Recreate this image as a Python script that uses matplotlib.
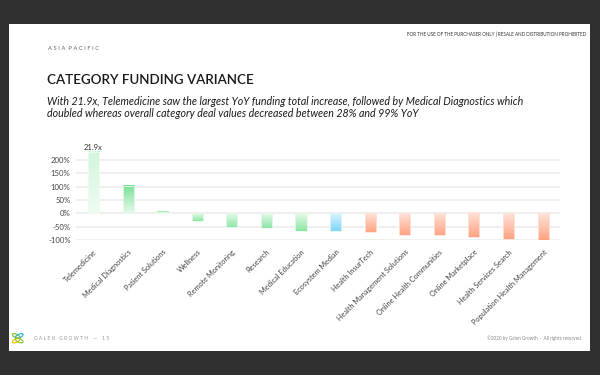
import numpy as np
import matplotlib.pyplot as plt
from matplotlib.colors import LinearSegmentedColormap
from matplotlib.patches import Rectangle, Ellipse

categories = ['Telemedicine', 'Medical Diagnostics', 'Patient Solutions', 'Wellness',
              'Remote Monitoring', 'Research', 'Medical Education', 'Ecosystem Median',
              'Health InsurTech', 'Health Management Solutions', 'Online Health Communities',
              'Online Marketplace', 'Health Services Search', 'Population Health Management']
# YoY variance in % (Telemedicine bar is capped, real value 21.9x)
values = [230, 102, 6, -28, -50, -56, -65, -65, -70, -80, -81, -90, -96, -99]
top_colors = ['#d3f5db', '#79e095', '#8ee6a6', '#8ee6a6', '#8ee6a6', '#8ee6a6', '#8ee6a6',
              '#7ed6f7', '#ffa383', '#ffa383', '#ffa383', '#ffa383', '#ffa383', '#ffa383']
end_colors = ['#effcf2', '#e6faeb', '#e6faeb', '#e6faeb', '#e6faeb', '#e6faeb', '#e6faeb',
              '#dcf4fd', '#ffe4d9', '#ffe4d9', '#ffe4d9', '#ffe4d9', '#ffe4d9', '#ffe4d9']
yticks = [-100, -50, 0, 50, 100, 150, 200]

fig = plt.figure(figsize=(6, 3.75), dpi=100)
fig.patch.set_facecolor('#303030')
fig.patches.append(Rectangle((0.015, 0.064), 0.968, 0.872, transform=fig.transFigure,
                             facecolor='white', edgecolor='none', zorder=-5))

font = 'Lato'
fig.text(0.977, 0.909, 'FOR THE USE OF THE PURCHASER ONLY | RESALE AND DISTRIBUTION PROHIBITED',
         ha='right', va='center', fontsize=3.3, color='#333333', family=font)
fig.text(0.08, 0.872, 'A S I A  P A C I F I C', ha='left', va='center', fontsize=4.2,
         color='#666666', family=font)
fig.text(0.079, 0.787, 'CATEGORY FUNDING VARIANCE', ha='left', va='center', fontsize=9.6,
         color='#1a1a1a', family=font, weight='semibold')
fig.text(0.079, 0.713, 'With 21.9x, Telemedicine saw the largest YoY funding total increase, '
         'followed by Medical Diagnostics which\ndoubled whereas overall category deal values '
         'decreased between 28% and 99% YoY', ha='left', va='center', fontsize=7.7,
         style='italic', color='#1a1a1a', family=font, linespacing=1.05)
fig.text(0.056, 0.098, 'G A L E N   G R O W T H    —    1 5', ha='left', va='center',
         fontsize=3.6, color='#999999', family=font)
fig.text(0.97, 0.098, '©2020 by Galen Growth  ·  All rights reserved.', ha='right', va='center',
         fontsize=3.3, color='#888888', family=font)
# small logo
for (dx, dy, ang, c) in [(0.027, 0.104, 45, '#8cc63f'), (0.032, 0.104, -45, '#2bb5e0'),
                         (0.027, 0.092, -45, '#f2c300'), (0.032, 0.092, 45, '#8cc63f')]:
    fig.patches.append(Ellipse((dx, dy), 0.008, 0.016, angle=ang, transform=fig.transFigure,
                               facecolor='none', edgecolor=c, linewidth=0.9))

ax = fig.add_axes([0.127, 0.36, 0.807, 0.242])
ax.set_facecolor('none')
x = np.arange(len(categories))
w = 0.32
for i, v in enumerate(values):
    cmap = LinearSegmentedColormap.from_list('g', [end_colors[i], top_colors[i]])
    grad = np.linspace(0, 1, 100).reshape(-1, 1)
    if v >= 0:
        ext = [x[i] - w / 2, x[i] + w / 2, 0, v]
    else:
        ext = [x[i] - w / 2, x[i] + w / 2, v, 0]
    ax.imshow(grad, extent=ext, origin='lower' if v >= 0 else 'upper', cmap=cmap,
              aspect='auto', zorder=3, interpolation='bilinear')
    ax.bar(x[i], v, width=w, facecolor='none', edgecolor=end_colors[i], linewidth=0.6, zorder=4)

ax.text(x[0], values[0] + 4, '21.9x', ha='center', va='bottom', fontsize=5.5,
        color='#333333', family=font)

for t in yticks:
    ax.axhline(t, color='#eeeeee', linewidth=1.3, zorder=1)
ax.set_yticks(yticks)
ax.set_yticklabels([f'{t}%' for t in yticks], fontsize=5.6, color='#444444', family=font)
ax.set_xticks(x)
ax.set_xticklabels(categories, rotation=45, ha='right', rotation_mode='anchor',
                   fontsize=5.3, color='#444444', family=font)
ax.tick_params(length=0, pad=4)
ax.tick_params(axis='x', pad=6)
for s in ax.spines.values():
    s.set_visible(False)
ax.set_xlim(-0.5, 13.5)
ax.set_ylim(-100, 240)

fig.savefig('out.png', dpi=100, facecolor=fig.get_facecolor())
